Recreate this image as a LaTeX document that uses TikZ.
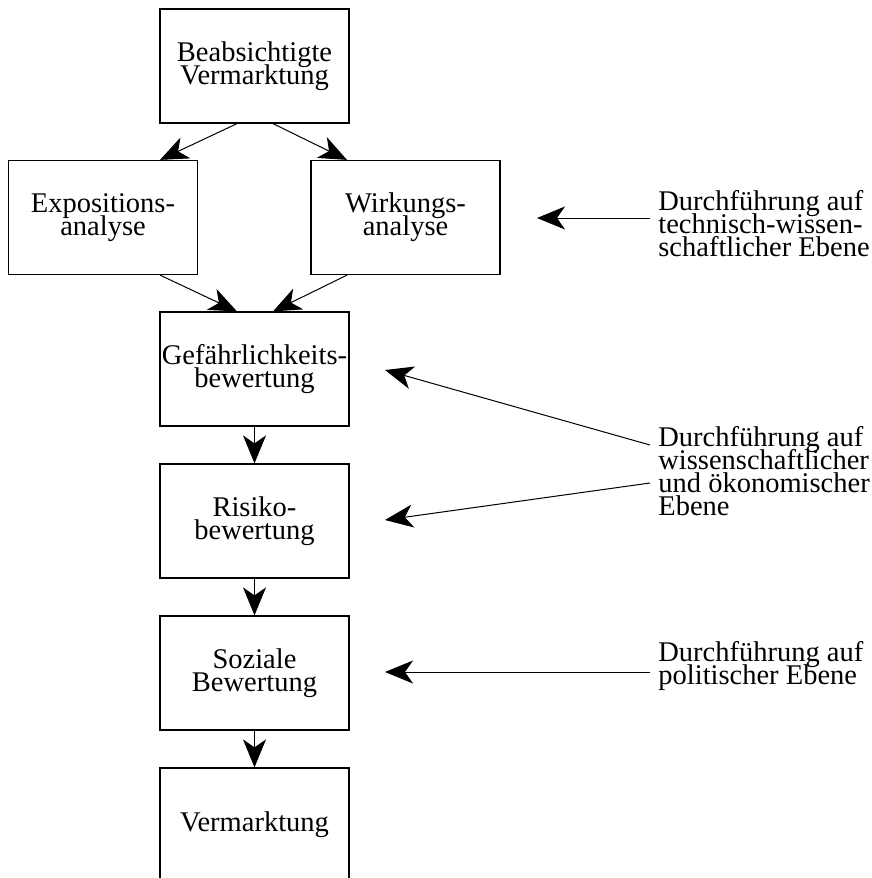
\documentclass[tikz,border=0pt]{standalone}
\usepackage{fontspec}
\setmainfont{Liberation Serif}
\usepackage{tikz}
\usetikzlibrary{arrows.meta, positioning}

\newcommand{\knotenschrift}{\fontsize{14.25}{11.5}\selectfont\lineskiplimit=-20pt\relax}

\begin{document}
\begin{tikzpicture}[x=.5pt, y=-.5pt,
    box/.style={draw, line width=.6pt, minimum width=94.5pt, minimum height=57pt, inner sep=0pt, align=center, font=\knotenschrift},
    note/.style={anchor=base west, inner sep=4pt, align=left, font=\knotenschrift},
    pfeil/.style={-{Stealth[length=14pt, width=11.5pt, inset=4pt]}, line width=.5pt}]

\useasboundingbox (0,0) rectangle (872,878);

% Ablauf
\node[box] (plan) at (254.5,66) {Beabsichtigte\\Vermarktung};
\node[box] (expo) at (103,217.5) {Expositions-\\analyse};
\node[box] (wirk) at (405.5,217.5) {Wirkungs-\\analyse};
\node[box] (gefahr) at (254.5,369) {Gef\"ahrlichkeits-\\bewertung};
\node[box] (risiko) at (254.5,521) {Risiko-\\bewertung};
\node[box] (sozial) at (254.5,673) {Soziale\\Bewertung};
\node[box] (markt) at (254.5,825) {Vermarktung};

\draw[pfeil] ([xshift=-8.75pt]plan.south) -- ([xshift=28.5pt]expo.north);
\draw[pfeil] ([xshift=9.25pt]plan.south) -- ([xshift=-29.25pt]wirk.north);
\draw[pfeil] ([xshift=28.5pt]expo.south) -- ([xshift=-8.75pt]gefahr.north);
\draw[pfeil] ([xshift=-29.25pt]wirk.south) -- ([xshift=9.25pt]gefahr.north);
\draw[pfeil] (gefahr) -- (risiko);
\draw[pfeil] (risiko) -- (sozial);
\draw[pfeil] (sozial) -- (markt);

% Ebenen (base = letzte Zeile)
\node[note] (technik) at (650,256) {Durchf\"uhrung auf\\technisch-wissen-\\schaftlicher Ebene};
\node[note] (wiss) at (650,515) {Durchf\"uhrung auf\\wissenschaftlicher\\und \"okonomischer\\Ebene};
\node[note] (politik) at (650,684) {Durchf\"uhrung auf\\politischer Ebene};

\coordinate (p1) at (537,218);
\coordinate (p2) at (385,370);
\coordinate (p3) at (385,520);
\coordinate (p4) at (385,672);

\draw[pfeil] ([yshift=19pt]technik.base west) -- (p1);
\draw[pfeil] ([yshift=35pt]wiss.base west) -- (p2);
\draw[pfeil] ([yshift=16pt]wiss.base west) -- (p3);
\draw[pfeil] ([yshift=6pt]politik.base west) -- (p4);

\end{tikzpicture}
\end{document}
